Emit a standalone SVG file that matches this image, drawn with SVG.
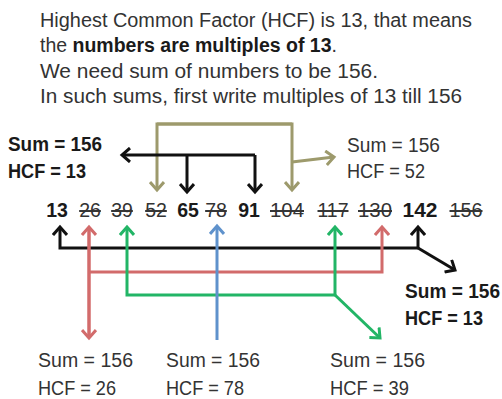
<svg xmlns="http://www.w3.org/2000/svg" width="502" height="399" viewBox="0 0 502 399">
<defs>
<style>
text{font-family:"Liberation Sans",Arial,sans-serif;fill:#333}
.h{font-size:20px}
.b{font-weight:bold;fill:#1a1a1a}
.n{font-size:19.5px;text-anchor:middle}
.s{text-decoration:line-through}
.lbl{font-size:19.5px}
.c{fill:none;stroke-width:3;stroke-linejoin:miter}
</style>
<marker id="ak" markerUnits="userSpaceOnUse" markerWidth="16" markerHeight="16" refX="9" refY="8" orient="auto"><path d="M1,1 L9,8 L1,15" fill="none" stroke="#111" stroke-width="3"/></marker>
<marker id="ao" markerUnits="userSpaceOnUse" markerWidth="16" markerHeight="16" refX="9" refY="8" orient="auto"><path d="M1,1 L9,8 L1,15" fill="none" stroke="#9d9a6c" stroke-width="3"/></marker>
<marker id="ar" markerUnits="userSpaceOnUse" markerWidth="16" markerHeight="16" refX="9" refY="8" orient="auto"><path d="M1,1 L9,8 L1,15" fill="none" stroke="#d26b6b" stroke-width="3"/></marker>
<marker id="ag" markerUnits="userSpaceOnUse" markerWidth="16" markerHeight="16" refX="9" refY="8" orient="auto"><path d="M1,1 L9,8 L1,15" fill="none" stroke="#22b566" stroke-width="3"/></marker>
<marker id="ab" markerUnits="userSpaceOnUse" markerWidth="16" markerHeight="16" refX="9" refY="8" orient="auto"><path d="M1,1 L9,8 L1,15" fill="none" stroke="#5f92cc" stroke-width="3"/></marker>
</defs>
<rect width="502" height="399" fill="#fff"/>

<g id="header">
<text class="h" x="40" y="27" textLength="432" lengthAdjust="spacingAndGlyphs">Highest Common Factor (HCF) is 13, that means</text>
<text x="40" y="52" style="font-size:19.5px">the <tspan class="b">numbers are multiples of 13</tspan>.</text>
<text class="h" x="40" y="78" textLength="338" lengthAdjust="spacingAndGlyphs">We need sum of numbers to be 156.</text>
<text class="h" x="40" y="103" textLength="422" lengthAdjust="spacingAndGlyphs">In such sums, first write multiples of 13 till 156</text>
</g>

<g id="numbers">
<text class="n b" x="57" y="217">13</text>
<text class="n s" x="90" y="217">26</text>
<text class="n s" x="122" y="217">39</text>
<text class="n s" x="156" y="217">52</text>
<text class="n b" x="188" y="217">65</text>
<text class="n s" x="216" y="217">78</text>
<text class="n b" x="249" y="217">91</text>
<text class="n s" x="287" y="217" textLength="34" lengthAdjust="spacingAndGlyphs">104</text>
<text class="n s" x="333" y="217" textLength="31" lengthAdjust="spacingAndGlyphs">117</text>
<text class="n s" x="375" y="217" textLength="34" lengthAdjust="spacingAndGlyphs">130</text>
<text class="n b" x="420" y="217" textLength="35" lengthAdjust="spacingAndGlyphs">142</text>
<text class="n s" x="466" y="217" textLength="33" lengthAdjust="spacingAndGlyphs">156</text>
</g>

<g id="label-tl">
<text class="lbl b" x="8" y="151" textLength="94" lengthAdjust="spacingAndGlyphs">Sum = 156</text>
<text class="lbl b" x="8" y="178" textLength="78" lengthAdjust="spacingAndGlyphs">HCF = 13</text>
</g>
<g id="label-tr">
<text class="lbl" x="347" y="152" textLength="93" lengthAdjust="spacingAndGlyphs">Sum = 156</text>
<text class="lbl" x="347" y="178" textLength="78" lengthAdjust="spacingAndGlyphs">HCF = 52</text>
</g>
<g id="label-br">
<text class="lbl b" x="405" y="298" textLength="95" lengthAdjust="spacingAndGlyphs">Sum = 156</text>
<text class="lbl b" x="405" y="325" textLength="78" lengthAdjust="spacingAndGlyphs">HCF = 13</text>
</g>
<g id="label-b1">
<text class="lbl" x="38" y="367" textLength="95" lengthAdjust="spacingAndGlyphs">Sum = 156</text>
<text class="lbl" x="38" y="395" textLength="78" lengthAdjust="spacingAndGlyphs">HCF = 26</text>
</g>
<g id="label-b2">
<text class="lbl" x="166" y="367" textLength="94" lengthAdjust="spacingAndGlyphs">Sum = 156</text>
<text class="lbl" x="166" y="395" textLength="78" lengthAdjust="spacingAndGlyphs">HCF = 78</text>
</g>
<g id="label-b3">
<text class="lbl" x="330" y="367" textLength="95" lengthAdjust="spacingAndGlyphs">Sum = 156</text>
<text class="lbl" x="330" y="395" textLength="79" lengthAdjust="spacingAndGlyphs">HCF = 39</text>
</g>

<g id="connectors">
<!-- olive -->
<path class="c" stroke="#9d9a6c" d="M292,124 H157 V190" marker-end="url(#ao)"/>
<path class="c" stroke="#9d9a6c" d="M157,124 H292 V190" marker-end="url(#ao)"/>
<path class="c" stroke="#9d9a6c" d="M292,162 L334,157" marker-end="url(#ao)"/>
<!-- black top -->
<path class="c" stroke="#111" d="M255,155 H122" marker-end="url(#ak)"/>
<path class="c" stroke="#111" d="M187,155 V192" marker-end="url(#ak)"/>
<path class="c" stroke="#111" d="M255,155 V192" marker-end="url(#ak)"/>
<!-- black bottom -->
<path class="c" stroke="#111" d="M418,248 H60 V227" marker-end="url(#ak)"/>
<path class="c" stroke="#111" d="M418,248 V227" marker-end="url(#ak)"/>
<path class="c" stroke="#111" d="M418,248 L455,270" marker-end="url(#ak)"/>
<!-- red -->
<path class="c" stroke="#d26b6b" d="M89,338 V227" marker-end="url(#ar)"/>
<path class="c" stroke="#d26b6b" d="M89,227 V338" marker-end="url(#ar)"/>
<path class="c" stroke="#d26b6b" d="M89,272 H382 V227" marker-end="url(#ar)"/>
<!-- green -->
<path class="c" stroke="#22b566" d="M335,295 H127 V227" marker-end="url(#ag)"/>
<path class="c" stroke="#22b566" d="M335,295 V227" marker-end="url(#ag)"/>
<path class="c" stroke="#22b566" d="M335,295 L380,338" marker-end="url(#ag)"/>
<!-- blue -->
<path class="c" stroke="#5f92cc" d="M217,340 V226" marker-end="url(#ab)"/>
</g>
</svg>
